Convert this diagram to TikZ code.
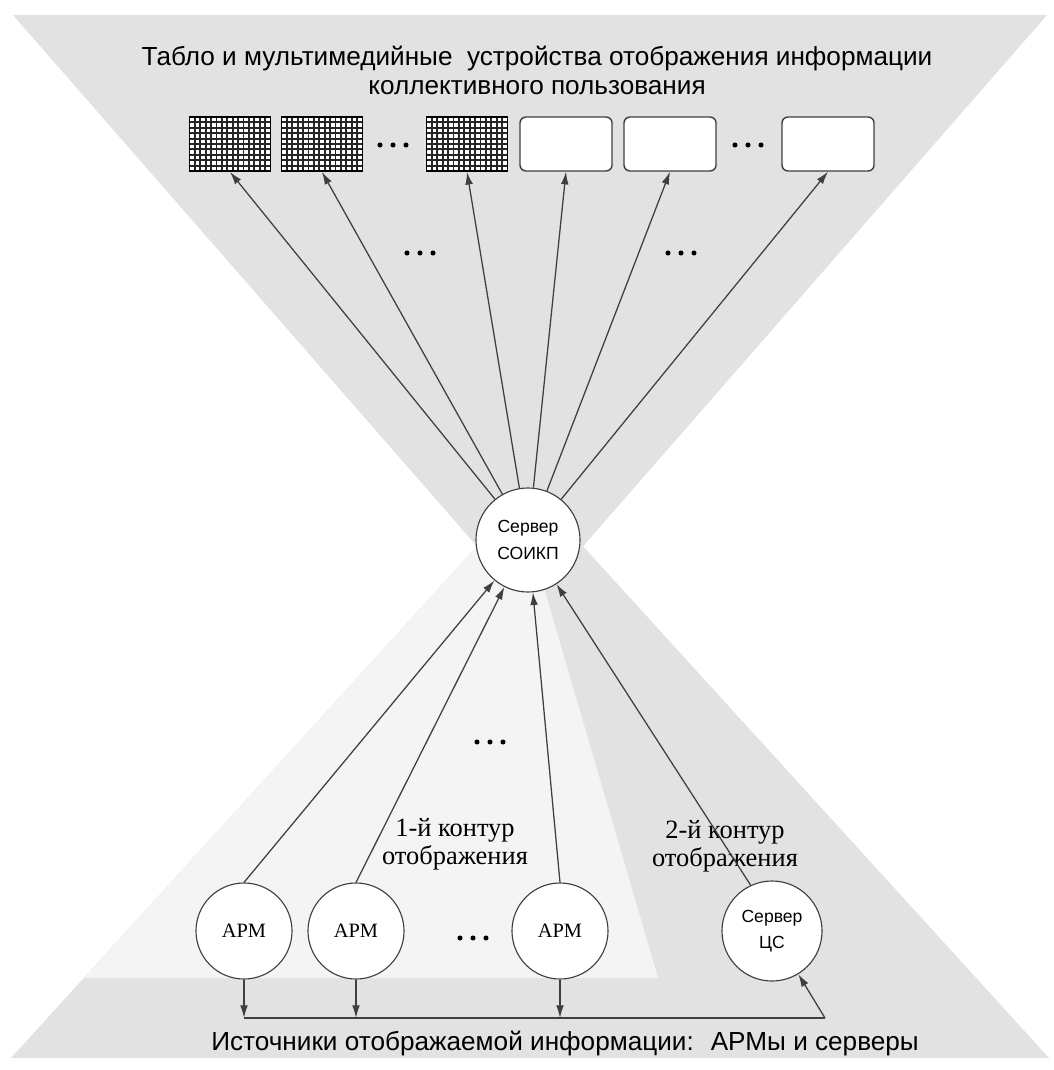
\documentclass[tikz,border=0pt]{standalone}
\usepackage{fontspec}
\setmainfont{Liberation Serif}
\setsansfont{Liberation Sans}
\usetikzlibrary{arrows.meta}

\definecolor{zonegray}{HTML}{E2E2E2}
\definecolor{zonelight}{HTML}{F4F4F4}
\definecolor{linegray}{HTML}{3F3F3F}

\begin{document}
\begin{tikzpicture}[x=0.025cm,y=-0.025cm] % 1 unit = 1 px of the layout
	\tikzset{
		srv/.style={circle,draw=linegray,line width=0.8pt,fill=white,minimum size=2.6cm,inner sep=0pt,align=center,font=\sffamily\fontsize{12.5}{19}\selectfont},
		arm/.style={circle,draw=linegray,line width=0.8pt,fill=white,minimum size=2.4cm,inner sep=0pt,font=\fontsize{14.5}{16}\selectfont},
		gridscr/.style={rectangle,draw=black,line width=1.3pt,fill=white,minimum width=2.025cm,minimum height=1.35cm,inner sep=0pt,
			path picture={
				\foreach \k in {1,...,14}
					\draw[black!85,line width=1.4pt] ([xshift=\k*0.135cm]path picture bounding box.south west) -- ([xshift=\k*0.135cm]path picture bounding box.north west);
				\foreach \k in {1,...,9}
					\draw[black!85,line width=1.4pt] ([yshift=\k*0.135cm]path picture bounding box.south west) -- ([yshift=\k*0.135cm]path picture bounding box.south east);
			}},
		whitescr/.style={rectangle,rounded corners=0.15cm,draw=linegray,line width=1pt,fill=white,minimum width=2.3cm,minimum height=1.35cm,inner sep=0pt},
		link/.style={draw=linegray,line width=0.9pt,-{Latex[length=9pt,width=5.5pt]}},
		heading/.style={align=center,font=\sffamily\fontsize{18.6}{20.6}\selectfont},
		contour/.style={align=center,font=\fontsize{18.8}{20}\selectfont}
	}
	
	% Canvas
	\useasboundingbox (0,0) rectangle (1053,1070);
	\fill[white] (0,0) rectangle (1053,1070);
	
	% Grey zones
	\fill[zonegray] (13,15) -- (1047,15) -- (530,607) -- cycle; % displays
	\fill[zonegray] (530,488) -- (1049,1058) -- (11,1058) -- cycle; % sources
	\fill[zonelight] (530,488) -- (530,540) -- (658,978) -- (84,978) -- cycle; % 1st contour
	
	% Title
	\node[heading] (title) at (537,70) {Табло и мультимедийные~ устройства отображения информации\\коллективного пользования};
	
	% Display devices
	\node[gridscr] (s1) at (230,144) {};
	\node[gridscr] (s2) at (322,144) {};
	\node[gridscr] (s3) at (467,144) {};
	\node[whitescr] (w1) at (566,144) {};
	\node[whitescr] (w2) at (670,144) {};
	\node[whitescr] (w3) at (828,144) {};
	
	% Central server
	\node[srv] (soikp) at (528,540) {Сервер\\СОИКП};
	
	% Sources
	\node[arm] (a1) at (244,931) {АРМ};
	\node[arm] (a2) at (356,931) {АРМ};
	\node[arm] (a3) at (560,931) {АРМ};
	\node[srv,minimum size=2.5cm] (cs) at (772,931) {Сервер\\ЦС};
	
	% Contour labels
	\node[contour] (k1) at (455,844) {1-й контур\\отображения};
	\node[contour] (k2) at (725,846) {2-й контур\\отображения};
	
	% Bottom label
	\node[heading] (src) at (565,1043) {Источники отображаемой информации:~ АРМы и серверы};
	
	% Server to displays
	\foreach \s in {s1,s2,s3,w1,w2,w3}
	{
		\draw[link] (soikp) -- (\s.south);
	}
	
	% Sources to server
	\foreach \a in {a1.north,a2.north,a3.north,cs.115}
	{
		\draw[link] (\a) -- (soikp);
	}
	
	% Bus of sources
	\coordinate (busL) at (244,1018);
	\coordinate (busR) at (825,1018);
	\draw[linegray,line width=0.9pt] (busL) -- (busR);
	\foreach \a in {a1,a2,a3}
	{
		\draw[link] (\a.south) -- (\a.south |- busL);
	}
	\draw[link] (busR) -- (cs);
	
	% Dots
	\foreach \x/\y in {393/145,748/145,420/253,681/253,490/742,473/938}
	{
		\foreach \d in {-13,0,13}
			\fill (\x+\d,\y) circle (1.8pt);
	}
	
\end{tikzpicture}
\end{document}
